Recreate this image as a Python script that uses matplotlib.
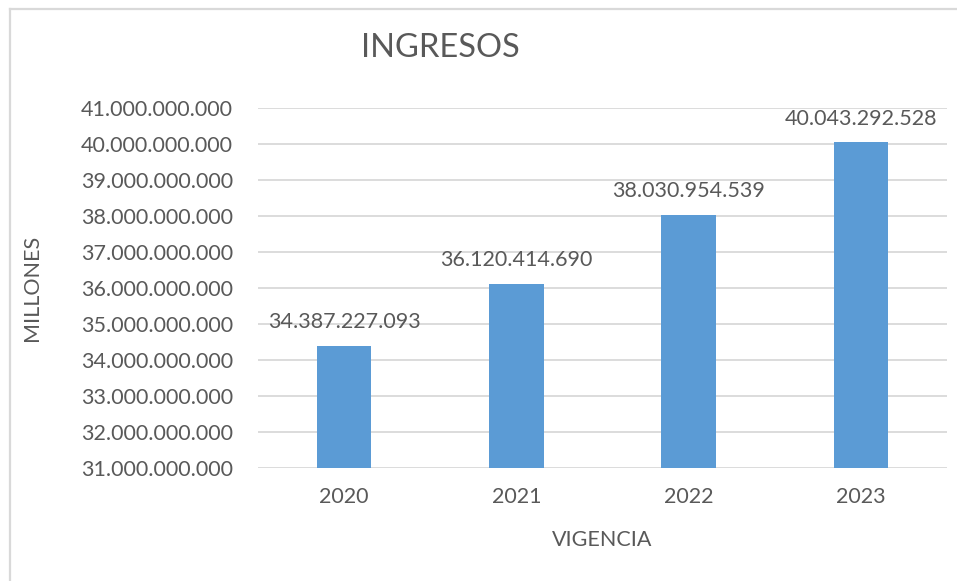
import matplotlib.pyplot as plt
from matplotlib.lines import Line2D
from matplotlib.ticker import FuncFormatter

vigencias = ["2020", "2021", "2022", "2023"]
ingresos = [34387227093, 36120414690, 38030954539, 40043292528]
y_ticks = [31e9, 32e9, 33e9, 34e9, 35e9, 36e9, 37e9, 38e9, 39e9, 40e9, 41e9]

gris = "#595959"
plt.rcParams["font.family"] = ["Lato", "DejaVu Sans"]
fs = 15.5


def miles(v, pos=None):
    # separador de miles con punto
    return f"{int(round(v)):,}".replace(",", ".")


fig = plt.figure(figsize=(9.57, 5.81), dpi=100)
ax = fig.add_axes([258 / 957, 1 - 468 / 581, (947 - 258) / 957, 360 / 581])

x = range(len(vigencias))
ax.bar(x, ingresos, width=0.315, color="#5B9BD5", zorder=3)

ax.set_ylim(31e9, 41e9)
ax.set_xlim(-0.5, len(vigencias) - 0.5)
ax.set_yticks(y_ticks)
ax.yaxis.set_major_formatter(FuncFormatter(miles))
ax.set_xticks(list(x))
ax.set_xticklabels(vigencias)
ax.tick_params(axis="both", length=0, colors=gris, labelsize=fs)
ax.tick_params(axis="y", pad=18)
ax.tick_params(axis="x", pad=14)
ax.grid(axis="y", color="#d9d9d9", linewidth=1.3, zorder=0)
for s in ax.spines.values():
    s.set_visible(False)

for xi, v in zip(x, ingresos):
    ax.annotate(miles(v), (xi, v), xytext=(0, 10), textcoords="offset points",
                ha="center", va="bottom", fontsize=fs, color=gris)

ax.set_xlabel("VIGENCIA", fontsize=fs, color=gris, labelpad=16)
ax.set_ylabel("MILLONES", fontsize=fs, color=gris, labelpad=28)
fig.text(440 / 957, 1 - 48 / 581, "INGRESOS", fontsize=23.5, color=gris,
         ha="center", va="center")

# marco del grafico (solo borde superior e izquierdo)
fig.add_artist(Line2D([10 / 957, 10 / 957], [0, 1 - 8.5 / 581],
                      transform=fig.transFigure, color="#d9d9d9", linewidth=1.6))
fig.add_artist(Line2D([10 / 957, 1], [1 - 8.5 / 581, 1 - 8.5 / 581],
                      transform=fig.transFigure, color="#d9d9d9", linewidth=1.6))

fig.savefig("out.png", dpi=100)
